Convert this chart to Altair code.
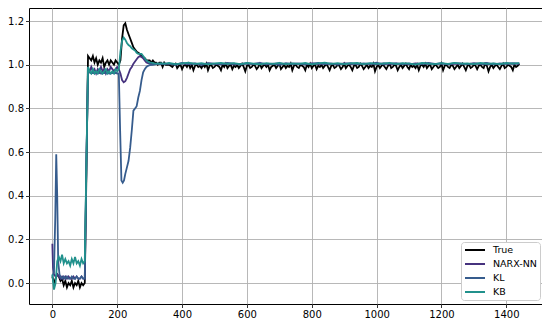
import altair as alt
import pandas as pd

SERIES = ["True", "NARX-NN", "KL", "KB"]
COLORS = ["#000000", "#46327e", "#365c8d", "#21918c"]
X_TICKS = [0, 200, 400, 600, 800, 1000, 1200, 1400]
Y_TICKS = [0.0, 0.2, 0.4, 0.6, 0.8, 1.0, 1.2]

# ---------------- True (measured) ----------------
true_x_a = list(range(0, 355, 5))
true_y_a = [
    0.03, 0.0, 0.02, 0.04, 0.03, 0.01, 0.02, -0.01, 0.01, -0.02, 0.0,
    -0.01, 0.01, -0.02, 0.0, -0.01, 0.01, -0.02, 0.0, -0.01, 0.0,
    0.5, 1.04, 1.03, 1.02, 1.04, 1.01, 1.03, 1.0, 1.02, 1.01, 1.03,
    0.99, 1.01, 1.02, 1.0, 1.02, 1.01, 1.0, 1.02, 1.01, 1.0,
    1.02, 1.12, 1.18, 1.19, 1.16, 1.14, 1.12, 1.10, 1.08, 1.07,
    1.06, 1.055, 1.05, 1.04, 1.035, 1.03, 1.02, 1.02, 1.02, 1.01,
    1.02, 1.01, 1.01, 1.0, 1.01, 1.01, 0.99, 1.01, 1.0,
]
true_x_b = list(range(360, 1445, 5))
true_y_b = [
    1.00, 0.995, 0.99, 1.00, 1.005, 0.985, 0.995, 1.00, 0.98, 0.995,
    1.00, 0.99, 1.005, 0.985, 1.00, 0.975, 0.995, 1.00, 0.99, 0.995,
    0.985, 1.00, 0.99, 1.005, 0.975, 0.995, 1.00, 0.985, 0.99, 1.00,
    0.995, 0.99, 0.975, 1.00, 0.99, 1.005, 0.985, 0.995, 1.00, 0.98,
    0.995, 0.99, 1.00, 0.985, 0.995, 1.005, 0.99, 0.97, 0.995, 1.00,
    0.985, 0.99, 1.00, 0.995, 0.98, 0.99, 1.005, 0.985, 0.995, 1.00,
    0.99, 1.00, 0.975, 0.99, 0.995, 1.00, 0.985, 0.995, 1.005, 0.98,
    0.99, 1.00, 0.985, 0.995, 0.99, 1.005, 0.975, 0.995, 1.00, 0.99,
    0.985, 1.00, 0.995, 0.99, 0.975, 1.00, 0.99, 1.005, 0.985, 0.995,
    1.00, 0.98, 0.995, 0.99, 1.00, 0.985, 0.995, 1.005, 0.99, 0.975,
    0.995, 1.00, 0.985, 0.99, 1.00, 0.995, 0.98, 0.99, 1.005, 0.985,
    0.995, 1.00, 0.99, 0.975, 0.995, 1.00, 0.985, 0.99, 1.005, 0.995,
    0.98, 0.99, 1.00, 0.985, 0.995, 0.99, 1.005, 0.97, 0.99, 1.00,
    0.985, 0.995, 1.00, 0.99, 0.98, 0.995, 1.005, 0.985, 0.99, 1.00,
    0.995, 0.975, 0.99, 1.00, 0.985, 0.995, 1.005, 0.99, 0.98, 1.00,
    0.99, 0.995, 0.985, 1.00, 0.975, 0.995, 1.00, 0.99, 1.005, 0.985,
    0.995, 1.00, 0.98, 0.99, 1.00, 0.995, 0.985, 0.99, 1.005, 0.975,
    0.995, 1.00, 0.99, 0.985, 1.00, 0.995, 0.98, 0.99, 1.00, 0.985,
    0.995, 1.005, 0.99, 0.975, 0.995, 1.00, 0.985, 0.99, 1.00, 0.995,
    0.98, 0.995, 1.00, 0.99, 0.985, 1.005, 0.995, 0.97, 0.99, 1.00,
    0.985, 0.995, 1.00, 0.99, 0.98, 0.995, 1.005, 0.985, 0.99, 1.00,
    0.995, 0.99, 0.975, 1.00, 0.99, 0.995, 1.005, 0.985,
]

# ---------------- NARX-NN ----------------
narx_x_a = [0, 2] + list(range(5, 355, 5))
narx_y_a = [
    0.18, 0.07,
    0.04, 0.03, 0.04, 0.03, 0.02, 0.03, 0.02, 0.03, 0.02, 0.03,
    0.02, 0.02, 0.03, 0.02, 0.03, 0.02, 0.02, 0.03, 0.02, 0.02,
    0.55, 0.98, 0.97, 0.99, 0.97, 0.98, 0.96, 0.98, 0.97, 0.99, 0.97,
    0.98, 0.96, 0.98, 0.97, 0.99, 0.98, 0.97, 0.98, 0.99, 0.98,
    0.96, 0.93, 0.92, 0.925, 0.94, 0.96, 0.98, 0.99, 1.005, 1.015,
    1.025, 1.035, 1.04, 1.035, 1.03, 1.02, 1.01, 1.008, 1.005, 1.004,
    1.005, 1.003, 1.004, 1.005, 1.003, 1.004, 1.005, 1.003, 1.004,
]
model_x_b = list(range(360, 1450, 20))
narx_y_b = [
    1.004, 1.002, 1.006, 1.003, 1.005, 1.001, 1.006, 1.004, 1.003, 1.005,
    1.002, 1.004, 1.006, 1.003, 1.005, 1.002, 1.004, 1.006, 1.003, 1.005,
    1.004, 1.002, 1.006, 1.003, 1.005, 1.004, 1.002, 1.006, 1.003, 1.005,
    1.003, 1.005, 1.002, 1.006, 1.004, 1.003, 1.005, 1.002, 1.006, 1.004,
    1.005, 1.003, 1.006, 1.002, 1.004, 1.005, 1.003, 1.006, 1.004, 1.002,
    1.005, 1.003, 1.006, 1.004, 1.005,
]

# ---------------- KL ----------------
kl_x_a = ([0, 5, 9, 12, 15, 18, 22] + list(range(25, 210, 5))
          + [209, 213, 217, 221, 225, 230, 235, 240, 245, 250, 255, 260,
             265, 270, 275, 280, 285, 290, 295, 300, 310, 320, 330, 340, 350])
kl_y_a = [
    0.03, 0.05, 0.30, 0.59, 0.40, 0.10, 0.04,
    0.03, 0.02, 0.03, 0.02, 0.03, 0.02, 0.02, 0.03, 0.02, 0.02,
    0.03, 0.02, 0.02, 0.03, 0.02, 0.02,
    0.55, 0.97, 0.965, 0.96, 0.965, 0.96, 0.965, 0.96, 0.965, 0.96,
    0.96, 0.965, 0.96, 0.965, 0.96, 0.96, 0.965, 0.96, 0.965, 0.96, 0.96,
    0.70, 0.47, 0.46, 0.47, 0.50, 0.53, 0.56, 0.62, 0.70, 0.79, 0.80,
    0.81, 0.85, 0.88, 0.93, 0.965, 0.98, 0.99, 0.995, 0.998, 1.0,
    1.003, 1.005, 1.004, 1.005,
]
kl_y_b = [
    1.005, 1.0, 1.008, 1.003, 1.006, 1.0, 1.007, 1.004, 1.002, 1.008,
    1.005, 1.001, 1.006, 1.004, 1.009, 1.003, 1.005, 1.0, 1.007, 1.004,
    1.006, 1.002, 1.005, 1.008, 1.003, 1.006, 1.001, 1.005, 1.007, 1.003,
    1.006, 1.004, 1.009, 1.002, 1.005, 1.007, 1.003, 1.006, 1.001, 1.005,
    1.008, 1.004, 1.006, 1.002, 1.007, 1.005, 1.003, 1.006, 1.004, 1.008,
    1.002, 1.006, 1.004, 1.007, 1.005,
]

# ---------------- KB ----------------
kb_x_a = list(range(0, 355, 5))
kb_y_a = [
    0.04, -0.03, 0.0, 0.10, 0.12, 0.10, 0.13, 0.09, 0.11, 0.09, 0.10,
    0.08, 0.11, 0.09, 0.12, 0.09, 0.10, 0.08, 0.11, 0.09, 0.10,
    0.55, 0.99, 0.97, 0.96, 0.98, 0.96, 0.97, 0.96, 0.98, 0.97, 0.96,
    0.97, 0.98, 0.96, 0.97, 0.96, 0.97, 0.96, 0.98, 0.97, 0.98,
    1.06, 1.11, 1.125, 1.115, 1.10, 1.09, 1.085, 1.075, 1.07, 1.065,
    1.055, 1.05, 1.05, 1.05, 1.04, 1.03, 1.02, 1.015, 1.01, 1.01,
    1.008, 1.006, 1.005, 1.006, 1.004, 1.007, 1.005, 1.006, 1.005,
]
kb_y_b = [
    1.008, 1.003, 1.006, 1.01, 1.004, 1.007, 1.002, 1.006, 1.009, 1.004,
    1.007, 1.003, 1.008, 1.005, 1.002, 1.007, 1.004, 1.009, 1.003, 1.006,
    1.004, 1.008, 1.002, 1.006, 1.01, 1.004, 1.007, 1.003, 1.006, 1.008,
    1.003, 1.007, 1.004, 1.006, 1.009, 1.003, 1.007, 1.005, 1.002, 1.008,
    1.005, 1.003, 1.007, 1.004, 1.009, 1.005, 1.006, 1.003, 1.008, 1.004,
    1.006, 1.003, 1.008, 1.005, 1.007,
]

parts = {
    "True": (true_x_a + true_x_b, true_y_a + true_y_b),
    "NARX-NN": (narx_x_a + model_x_b, narx_y_a + narx_y_b),
    "KL": (kl_x_a + model_x_b, kl_y_a + kl_y_b),
    "KB": (kb_x_a + model_x_b, kb_y_a + kb_y_b),
}

frames = []
for name, (xs, ys) in parts.items():
    n = min(len(xs), len(ys))
    frames.append(pd.DataFrame({"t": xs[:n], "v": ys[:n], "series": name}))
df = pd.concat(frames, ignore_index=True)

color = alt.Color(
    "series:N",
    scale=alt.Scale(domain=SERIES, range=COLORS),
    legend=alt.Legend(
        title=None, orient="none", legendX=432, legendY=234,
        fillColor="white", strokeColor="#cccccc", padding=3, cornerRadius=3,
        symbolType="stroke", symbolSize=400, symbolStrokeWidth=2,
        labelFontSize=9.5, labelFont="DejaVu Sans", labelColor="black",
        labelOffset=7, rowPadding=4, clipHeight=10,
    ),
)

x = alt.X("t:Q", scale=alt.Scale(domain=[-72, 1510], nice=False, zero=False),
          axis=alt.Axis(values=X_TICKS, title=None, format="d"))
y = alt.Y("v:Q", scale=alt.Scale(domain=[-0.096, 1.26], nice=False, zero=False),
          axis=alt.Axis(values=Y_TICKS, title=None, format=".1f"))

layers = []
for name in SERIES:
    layers.append(
        alt.Chart(df).transform_filter(alt.datum.series == name)
        .mark_line(strokeWidth=1.8, clip=True)
        .encode(x=x, y=y, color=color, order="t:Q")
    )

chart = (
    alt.layer(*layers)
    .properties(width=513, height=296, autosize=alt.AutoSizeParams(type="none"),
                padding={"left": 21, "top": 0, "right": 0, "bottom": 20})
    .configure_view(stroke="black", strokeWidth=1)
    .configure_axis(
        grid=True, gridColor="#b0b0b0", gridWidth=0.9,
        domain=False, ticks=True, tickColor="black", tickSize=3.5, tickWidth=0.8,
        labelFont="DejaVu Sans", labelFontSize=10, labelColor="black", labelPadding=2,
    )
)

chart.save("out.html", embed_options={"renderer": "svg", "actions": False})
